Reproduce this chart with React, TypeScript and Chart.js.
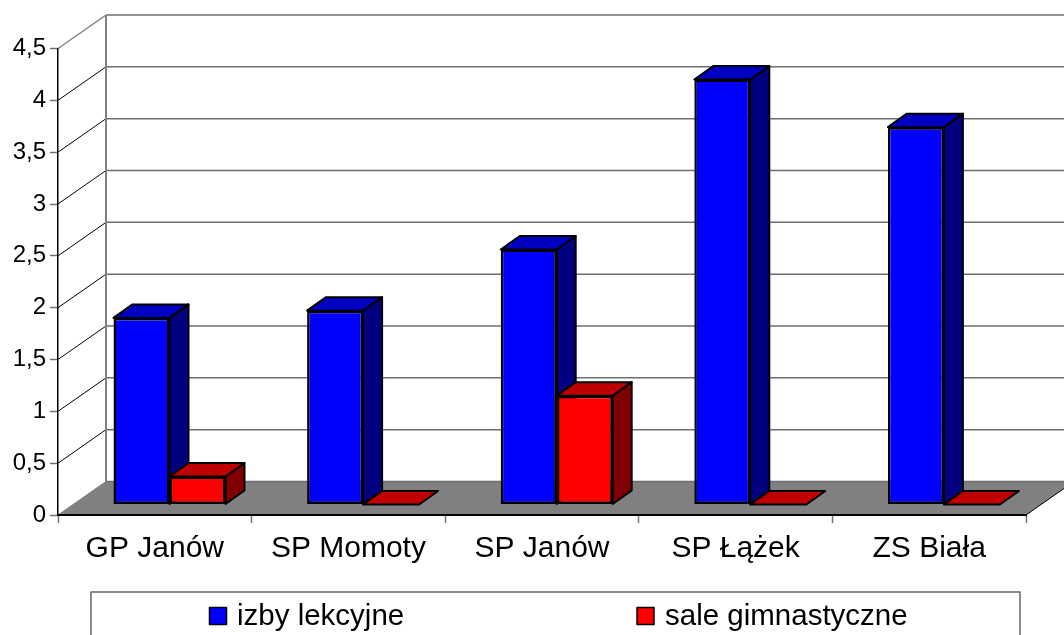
import { useEffect, useRef } from "react";
import { Chart, registerables } from "chart.js";

Chart.register(...registerables);

const categories = ["GP Janów", "SP Momoty", "SP Janów", "SP Łążek", "ZS Biała"];
const izbyLekcyjne = [1.8, 1.87, 2.46, 4.1, 3.64];
const saleGimnastyczne = [0.27, 0, 1.05, 0, 0];
const seriesNames = ["izby lekcyjne", "sale gimnastyczne"];
const seriesFront = ["#0000ff", "#ff0000"];
const seriesTop = ["#0000c0", "#c00000"];
const seriesSide = ["#000080", "#800000"];

const FONT = '"Liberation Sans", Arial, sans-serif';
const WALL = { dx: 48, dy: -33.5 };
const BAR_SHIFT = { dx: 14.7, dy: -10.5 };
const BAR_DEPTH = { dx: 19, dy: -13.5 };

function poly(ctx: CanvasRenderingContext2D, pts: number[][], fill?: string, stroke?: string, lw = 1) {
  ctx.beginPath();
  pts.forEach((p, i) => (i ? ctx.lineTo(p[0], p[1]) : ctx.moveTo(p[0], p[1])));
  if (fill) {
    ctx.closePath();
    ctx.fillStyle = fill;
    ctx.fill();
  }
  if (stroke) {
    ctx.strokeStyle = stroke;
    ctx.lineWidth = lw;
    ctx.lineJoin = "round";
    ctx.stroke();
  }
}

const depthPlugin = {
  id: "depth3d",
  beforeDraw(chart: any) {
    const { ctx, chartArea: a, scales } = chart;
    const y = scales.y;
    const bx = a.left + WALL.dx;
    const y0 = y.getPixelForValue(0);
    // floor
    poly(ctx, [[a.left, y0], [a.right, y0], [a.right + WALL.dx, y0 + WALL.dy], [bx, y0 + WALL.dy]], "#808080");
    // wall grid and diagonals
    y.ticks.forEach((t: any) => {
      const py = y.getPixelForValue(t.value);
      if (t.value > 0) {
        const isTop = t.value === y.max;
        poly(ctx, [[a.left, py], [bx, py + WALL.dy]], undefined, isTop ? "#808080" : "#000000", isTop ? 1.5 : 1);
      }
      poly(ctx, [[bx, py + WALL.dy], [a.right + WALL.dx, py + WALL.dy]], undefined, "#6e6e6e", 1.5);
    });
    // left edge of the floor, back wall edge, right edge of the floor
    poly(ctx, [[a.left, y0], [bx, y0 + WALL.dy]], undefined, "#808080", 1);
    poly(ctx, [[bx, y.top + WALL.dy], [bx, y0 + WALL.dy]], undefined, "#808080", 2);
    poly(ctx, [[a.right, y0], [a.right + WALL.dx, y0 + WALL.dy]], undefined, "#000000", 1);
  },
  beforeDatasetsDraw(chart: any) {
    const { ctx } = chart;
    ctx.save();
    ctx.translate(BAR_SHIFT.dx, BAR_SHIFT.dy);
    chart.data.datasets.forEach((_: any, di: number) => {
      chart.getDatasetMeta(di).data.forEach((bar: any) => {
        const w = bar.width / 2;
        const l = bar.x - w;
        const r = bar.x + w;
        const top = bar.y;
        const base = bar.base;
        const { dx, dy } = BAR_DEPTH;
        if (base - top > 0.5) {
          poly(ctx, [[r, top], [r + dx, top + dy], [r + dx, base + dy], [r, base]], seriesSide[di], "#000000", 2);
        }
        poly(ctx, [[l, top], [r, top], [r + dx, top + dy], [l + dx, top + dy]], seriesTop[di], "#000000", 2);
      });
    });
  },
  afterDatasetsDraw(chart: any) {
    chart.ctx.restore();
  },
  afterDraw(chart: any) {
    const { ctx } = chart;
    ctx.save();
    ctx.strokeStyle = "#666666";
    ctx.lineWidth = 1.5;
    ctx.strokeRect(91, 592, 929, 60);
    const swatchX = [209.5, 637];
    const textX = [237, 665];
    chart.data.datasets.forEach((ds: any, i: number) => {
      ctx.fillStyle = ds.backgroundColor;
      ctx.fillRect(swatchX[i], 607.5, 17, 17);
      ctx.strokeStyle = "#000000";
      ctx.lineWidth = 1.5;
      ctx.strokeRect(swatchX[i], 607.5, 17, 17);
      ctx.fillStyle = "#000000";
      ctx.font = `29.5px ${FONT}`;
      ctx.textBaseline = "middle";
      ctx.textAlign = "left";
      ctx.fillText(ds.label, textX[i], 617);
    });
    ctx.restore();
  },
};

export default function App() {
  const ref = useRef<HTMLCanvasElement | null>(null);
  useEffect(() => {
    if (!ref.current) return;
    const chart = new Chart(ref.current, {
      type: "bar",
      data: {
        labels: categories,
        datasets: [
          { label: seriesNames[0], data: izbyLekcyjne, backgroundColor: seriesFront[0] },
          { label: seriesNames[1], data: saleGimnastyczne, backgroundColor: seriesFront[1] },
        ],
      },
      plugins: [depthPlugin],
      options: {
        responsive: false,
        animation: false,
        layout: { padding: { top: 48.5, right: 38, left: 0, bottom: 0 } },
        datasets: {
          bar: {
            categoryPercentage: 0.5785,
            barPercentage: 1,
            borderColor: "#000000",
            borderWidth: 2.5,
            borderSkipped: false,
            clip: false,
          },
        },
        plugins: { legend: { display: false }, title: { display: false }, tooltip: { enabled: false } },
        scales: {
          x: {
            afterFit: (s: any) => {
              s.height = 120;
            },
            grid: { offset: true, drawOnChartArea: false, drawTicks: true, tickLength: 8, tickColor: "#707070", tickWidth: 1.5 },
            border: { color: "#000000", width: 2 },
            ticks: { color: "#000000", font: { family: FONT, size: 30 }, padding: 8, maxRotation: 0 },
          },
          y: {
            min: 0,
            max: 4.5,
            afterFit: (s: any) => {
              s.width = 58;
            },
            grid: { drawOnChartArea: false, drawTicks: true, tickLength: 8, tickColor: "#707070", tickWidth: 1.5 },
            border: { color: "#000000", width: 1.5 },
            ticks: {
              stepSize: 0.5,
              color: "#000000",
              font: { family: FONT, size: 24 },
              padding: 4,
              callback: (v: any) => String(v).replace(".", ","),
            },
          },
        },
      } as any,
    });
    return () => chart.destroy();
  }, []);
  return (
    <div style={{ position: "absolute", left: 0, top: 0, width: 1064, height: 635, background: "#ffffff" }}>
      <canvas ref={ref} width={1064} height={635} style={{ display: "block" }} />
    </div>
  );
}
